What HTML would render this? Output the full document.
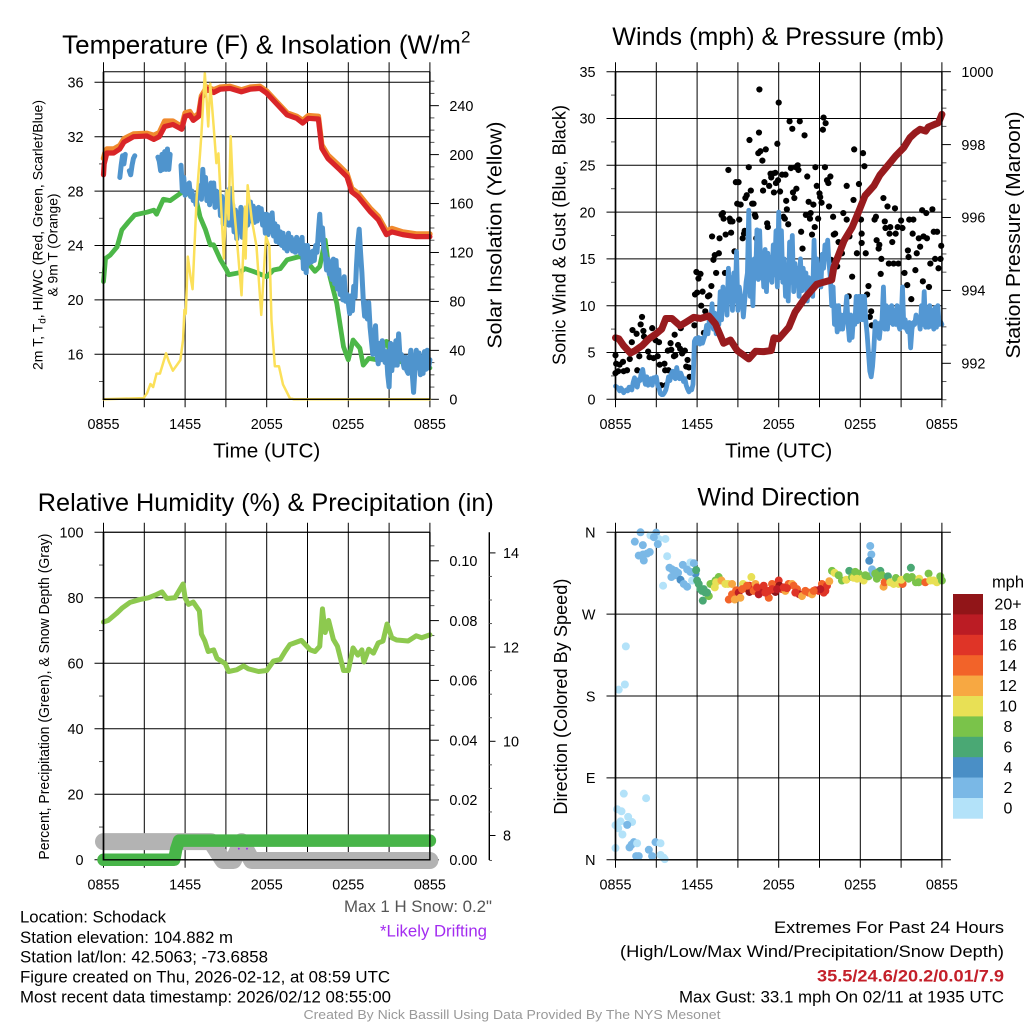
<!DOCTYPE html>
<html lang="en">
<head>
<meta charset="utf-8">
<title>Schodack Mesonet Station Meteogram</title>
<style>
html,body{margin:0;padding:0;background:#fff;}
svg{display:block;font-family:"Liberation Sans",Arial,sans-serif;}
.tick{font-size:14.4px;fill:#000;}
.title{font-size:25px;fill:#000;text-anchor:middle;}
.axt{font-size:20.7px;fill:#000;text-anchor:middle;}
.note{font-size:16.4px;fill:#000;}
.right{text-anchor:end;}
</style>
</head>
<body>
<svg id="chart" xmlns="http://www.w3.org/2000/svg" width="1024" height="1024" viewBox="0 0 1024 1024">
<rect width="1024" height="1024" fill="#fff"/>
<g id="p1"></g>
<g id="p2"></g>
<g id="p3"></g>
<g id="p4"></g>
<g id="cb"></g>

<text class="title" style="font-size:26px" x="266.3" y="53.5">Temperature (F) &amp; Insolation (W/m<tspan dy="-11" font-size="17">2</tspan></text>
<text class="title" x="778.3" y="45" textLength="332" lengthAdjust="spacingAndGlyphs">Winds (mph) &amp; Pressure (mb)</text>
<text class="title" x="265.8" y="511" textLength="456" lengthAdjust="spacingAndGlyphs">Relative Humidity (%) &amp; Precipitation (in)</text>
<text class="title" x="778.7" y="505.5">Wind Direction</text>

<text class="axt" x="266.7" y="457.5">Time (UTC)</text>
<text class="axt" x="778.7" y="457.5">Time (UTC)</text>

<text transform="translate(42.7 235) rotate(-90)" font-size="14.2" text-anchor="middle" textLength="270" lengthAdjust="spacingAndGlyphs">2m T, T<tspan dy="3" font-size="10">d</tspan><tspan dy="-3">, HI/WC (Red, Green, Scarlet/Blue)</tspan></text>
<text transform="translate(57.3 245) rotate(-90)" font-size="14.2" text-anchor="middle" textLength="103" lengthAdjust="spacingAndGlyphs">&amp; 9m T (Orange)</text>
<text class="axt" transform="translate(501.7 235) rotate(-90)" textLength="227" lengthAdjust="spacingAndGlyphs">Solar Insolation (Yellow)</text>
<text class="axt" style="font-size:18.8px" transform="translate(565.3 235) rotate(-90)" textLength="260" lengthAdjust="spacingAndGlyphs">Sonic Wind &amp; Gust (Blue, Black)</text>
<text class="axt" transform="translate(1020 235) rotate(-90)" textLength="247" lengthAdjust="spacingAndGlyphs">Station Pressure (Maroon)</text>
<text transform="translate(49 696.6) rotate(-90)" font-size="14.4" text-anchor="middle" textLength="326" lengthAdjust="spacingAndGlyphs">Percent, Precipitation (Green), &amp; Snow Depth (Gray)</text>
<text class="axt" style="font-size:18.8px" transform="translate(567 696.6) rotate(-90)" textLength="236" lengthAdjust="spacingAndGlyphs">Direction (Colored By Speed)</text>

<text class="note" x="20" y="922.5" textLength="146" lengthAdjust="spacingAndGlyphs">Location: Schodack</text>
<text class="note" x="20" y="943" textLength="213" lengthAdjust="spacingAndGlyphs">Station elevation: 104.882 m</text>
<text class="note" x="20" y="962.5" textLength="248" lengthAdjust="spacingAndGlyphs">Station lat/lon: 42.5063; -73.6858</text>
<text class="note" x="20" y="982.5" textLength="370" lengthAdjust="spacingAndGlyphs">Figure created on Thu, 2026-02-12, at 08:59 UTC</text>
<text class="note" x="20" y="1002.5" textLength="371" lengthAdjust="spacingAndGlyphs">Most recent data timestamp: 2026/02/12 08:55:00</text>

<text class="note right" x="492" y="912" style="fill:#555" textLength="148" lengthAdjust="spacingAndGlyphs">Max 1 H Snow: 0.2"</text>
<text class="note right" x="487" y="936.3" style="fill:#a32cf0" textLength="107" lengthAdjust="spacingAndGlyphs">*Likely Drifting</text>

<text class="note right" x="1004" y="933" textLength="230" lengthAdjust="spacingAndGlyphs">Extremes For Past 24 Hours</text>
<text class="note right" x="1004" y="957" textLength="384" lengthAdjust="spacingAndGlyphs">(High/Low/Max Wind/Precipitation/Snow Depth)</text>
<text class="note right" x="1004" y="981.5" style="fill:#c4202a;font-weight:bold" textLength="187" lengthAdjust="spacingAndGlyphs">35.5/24.6/20.2/0.01/7.9</text>
<text class="note right" x="1004" y="1002.5" textLength="325" lengthAdjust="spacingAndGlyphs">Max Gust: 33.1 mph On 02/11 at 1935 UTC</text>
<text x="512" y="1019" font-size="13.3" fill="#999" text-anchor="middle" textLength="417" lengthAdjust="spacingAndGlyphs">Created By Nick Bassill Using Data Provided By The NYS Mesonet</text>
</svg>

<script>
/* ---------- shared axis data ---------- */
const gridHours = [0,3,6,9,12,15,18,21,24];
const timeTickHours = [0,6,12,18,24];
const timeTickLabels = ['0855','1455','2055','0255','0855'];

/* ---------- temperature panel data ---------- */
const tempTicks = [36,32,28,24,20,16];
const tempMinorTicks = [34,30,26,22,18,14];
const solarTicks = [240,200,160,120,80,40,0];
const solarMinorTicks = [10,20,30,50,60,70,90,100,110,130,140,150,170,180,190,210,220,230,250,260];
const redHours = [0,0.05,0.25,0.75,1.2,1.5,2.2,3.2,3.7,4.1,4.5,5.1,5.75,6,6.35,6.6,7,7.2,7.6,8.1,8.6,9.3,10.15,10.8,11.5,12,12.7,13.5,14.2,14.65,15.05,15.8,16.05,16.5,17.4,17.9,18.25,18.7,19.6,20.2,20.8,21.2,22,23,24];
const redTemps = [29.2,30,30.8,30.8,31.1,31.6,32,32.05,31.8,32,32.75,32.9,32.55,33.5,33.6,33.2,33.5,34.8,35.5,35.25,35.5,35.55,35.3,35.5,35.55,35.2,34.45,33.6,33.35,33,33.35,33.3,31.15,30.4,29.55,29.05,27.95,27.6,26.5,25.9,24.8,25,24.8,24.65,24.65];
const orangeHours = [0,0.1,0.25,0.75,1.2,1.5,2.2,3.2,3.7,4.1,4.5,5.1,5.75,6,6.35,6.6,7,7.2,7.6,8.1,8.6,9.3,10.15,10.8,11.5,12,12.7,13.5,14.2,14.65,15.05,15.8,16.05,16.5,17.4,17.9,18.25,18.7,19.6,20.2,20.8,21.2,22,23,24];
const orangeTemps = [30.4,30.8,31.1,31.1,31.35,31.85,32.2,32.25,32.1,32.3,33.15,33.15,32.75,33.75,33.85,33.4,33.7,35,35.65,35.45,35.65,35.7,35.45,35.65,35.7,35.35,34.6,33.75,33.5,33.2,33.55,33.5,31.4,30.65,29.8,29.3,28.2,27.85,26.75,26.15,25.05,25.25,25,24.85,24.85];
const dewHours = [0,0.15,0.5,1,1.35,1.85,2.3,3.2,3.7,3.9,4.4,4.9,5.75,6.1,6.85,7.1,7.5,7.85,8.1,8.6,9.05,9.2,10,10.4,11,12,12.5,13,13.5,14.45,15.05,15.55,15.9,16.3,16.65,17.15,17.65,18,18.35,18.85,19.1,19.5,20.1,20.8,21.3,22.3,24];
const dewTemps = [21.35,23.05,23.3,23.9,25.15,25.75,26.25,26.45,26.6,26.3,27.4,27.3,27.9,27.95,27.2,26.1,25.15,24.05,24.05,22.95,22.2,21.85,22,22.3,22.1,21.7,22.2,22.3,22.95,23.2,22.7,22.1,22.45,24.4,21.7,19.75,16.55,15.6,17.05,16.45,15.2,15.7,15.6,16.95,15.6,15.35,15];
const chillStepHours = 0.1;
const chillTemps = [
null,null,null,null,null,null,null,null,null,null,
null,null,29.0,29.9,30.6,30.0,30.7,null,null,29.5,
29.2,29.9,30.4,30.6,null,null,null,null,null,null,
null,null,null,null,null,null,null,null,null,null,
30.5,30.2,29.5,30.7,29.6,30.9,29.6,31.1,29.6,30.7,
null,null,null,null,null,null,null,29.9,28.0,29.0,
27.7,27.9,28.4,28.6,27.6,28.0,27.3,27.6,27.0,27.8,
28.0,28.4,27.4,29.6,28.0,29.0,27.3,28.3,27.0,28.6,
27.3,28.6,26.8,28.0,26.9,27.9,26.2,27.6,25.6,27.0,
26.0,28.0,25.5,28.2,25.5,27.0,25.0,26.6,24.5,26.4,
25.3,26.8,24.6,26.6,25.0,26.5,25.5,26.0,27.2,25.8,
26.9,25.7,26.7,25.8,26.8,26.0,26.7,25.5,26.3,24.9,
26.3,24.8,26.2,25.0,26.4,24.7,25.6,24.3,25.4,24.2,
25.0,24.0,24.9,23.8,24.6,23.6,24.9,23.8,24.6,23.6,
24.4,23.5,24.6,23.6,24.4,23.4,24.6,22.3,24.0,22.0,
24.0,22.7,23.5,22.8,23.6,22.9,24.0,23.5,25.0,26.3,
24.4,25.3,23.8,23.4,22.2,23.0,21.9,22.8,21.5,23.0,
21.2,22.9,20.8,22.2,20.4,21.5,20.0,21.7,19.9,20.4,
19.8,19.0,20.3,19.2,21.0,20.2,22.5,24.2,25.2,23.5,
22.0,20.0,18.8,19.8,18.6,19.8,18.0,17.0,16.0,17.2,
18.1,16.0,15.3,16.8,15.6,17.0,16.0,15.4,16.2,14.5,
13.6,16.8,14.8,16.7,15.2,17.0,15.2,17.5,15.8,16.0,
15.5,15.0,15.8,14.8,14.6,15.5,16.3,14.6,13.2,14.9,
16.3,15.0,16.1,14.5,15.8,14.6,16.2,14.9,16.3,15.0,
15.6];
const solarHours = [0,2.95,3.2,3.45,3.65,3.9,4.15,4.6,4.8,5.1,5.4,5.65,5.85,5.95,6.05,6.2,6.4,6.55,6.85,7.1,7.2,7.45,7.6,7.7,7.85,8.1,8.3,8.45,8.6,8.85,9.05,9.2,9.35,9.55,9.85,10.15,10.4,10.45,10.6,10.9,11.25,11.6,11.95,12.2,12.35,12.6,12.9,13.2,13.7,14,24];
const solarValues = [0,1,5,12.5,10,21,21,37.6,31,23.4,28,32,48.5,73,70,116.6,100,90,165,201,217,266.5,242,223,258,223,193,201,168,115,171,147,215,163,125,85,157.5,115,175,147,125,69,133,125,65,27,27,12,1,0,0];

/* ---------- winds panel data ---------- */
const windTicks = [35,30,25,20,15,10,5,0];
const windMinorTicks = [2.5,7.5,12.5,17.5,22.5,27.5,32.5];
const pressureTicks = [1000,998,996,994,992];
const pressureMinorTicks = [991,991.5,992.5,993,993.5,994.5,995,995.5,996.5,997,997.5,998.5,999,999.5];
const windStepHours = 0.1;
const windSpeeds = [
1.4,1.3,1.2,0.9,1.2,1.0,0.7,0.9,1.0,0.9,
1.3,1.2,1.0,1.8,2.3,1.7,1.3,2.1,2.0,2.9,
3.2,2.2,1.6,2.4,1.5,1.8,2.2,1.5,2.3,2.0,
2.4,1.5,1.2,0.6,0.5,0.5,0.7,1.0,1.6,2.4,
2.0,2.7,3.0,2.4,2.2,3.4,2.6,2.2,2.8,2.4,
1.9,2.2,1.5,1.1,0.8,1.1,1.0,1.6,6.2,6.5,
6.0,6.6,5.9,6.5,6.0,6.5,6.9,7.9,7.0,8.5,
8.2,10.2,7.5,9.2,7.0,8.8,8.0,11.5,8.5,12.0,
10.0,11.0,9.0,14.0,11.0,13.0,9.5,13.5,10.5,15.8,
9.5,12.0,11.0,11.0,8.8,10.5,12.5,13.5,20.2,11.0,
14.0,10.0,15.0,13.0,18.1,12.8,18.0,13.0,15.0,12.0,
16.0,11.5,15.6,12.8,15.2,12.5,16.5,13.3,18.0,12.0,
20.0,13.0,18.0,12.5,15.0,11.0,14.0,10.5,16.8,12.5,
17.5,11.5,14.5,12.5,14.0,11.0,15.0,11.6,14.0,12.5,
13.5,10.5,13.0,11.5,12.5,11.0,17.0,12.0,15.0,12.5,
13.0,12.0,15.5,14.0,16.5,15.0,17.0,14.5,13.0,10.0,
12.0,8.0,10.0,7.2,10.0,7.5,9.0,7.5,8.8,9.2,
11.0,8.0,6.3,9.0,6.6,8.8,8.0,11.0,8.3,11.0,
8.5,11.0,8.5,11.0,8.5,7.0,5.0,3.0,2.4,3.5,
5.5,8.3,7.3,8.1,6.5,8.0,8.5,12.0,7.5,10.0,
7.5,9.8,8.2,10.0,8.0,9.5,8.0,10.0,8.0,7.5,
8.0,12.0,7.7,8.5,7.5,7.2,8.2,5.5,7.5,8.2,
8.0,9.0,8.3,8.7,7.5,10.0,8.0,11.5,7.7,9.0,
7.7,10.0,7.8,9.5,7.5,9.8,7.7,10.0,8.0,8.3,
8.0];
const pressureHours = [0,0.25,0.6,1.1,1.45,1.95,2.45,2.95,3.4,3.7,4.15,4.75,5.15,5.75,6.25,6.85,7.35,7.95,8.45,8.95,9.8,10.3,10.9,11.45,11.65,12,12.75,13.2,13.95,14.8,15.9,16.05,16.8,17.4,17.9,18.35,19,19.45,20.1,20.6,21.2,21.65,22.05,22.4,22.8,23,23.75,24];
const pressureValues = [992.7,992.67,992.48,992.28,992.35,992.48,992.67,992.8,992.94,993.23,993.23,993.03,993.12,993.26,993.23,993.3,993.08,992.55,992.64,992.35,992.12,992.33,992.32,992.35,992.7,992.67,992.99,993.4,993.8,994.17,994.29,994.63,995.36,995.73,996.18,996.6,996.87,997.17,997.46,997.69,997.92,998.19,998.33,998.42,998.37,998.48,998.6,998.83];
const gustHours = [0,0,0.05,0.3,0.2,0.55,0.6,0.85,1.05,1.2,1.25,1.55,1.6,1.75,1.85,1.95,2.05,2.1,2.4,2.5,2.7,2.8,2.95,3.1,3.2,3.25,3.35,3.6,3.65,3.7,3.85,3.9,4.05,4.1,4.3,4.35,4.4,4.6,4.75,4.8,4.9,5.1,5.2,5.3,5.4,5.45,
5.8,5.85,5.95,6,6.1,6.25,6.4,6.3,6.5,6.6,6.8,6.9,7.05,7.1,7.2,7.3,7.4,7.6,7.65,7.8,7.9,7.95,8.05,8.1,8.3,8.4,8.45,8.5,8.6,8.75,8.85,9.05,8.95,9.2,9.35,9.45,9.1,9.5,9.55,9.65,9.8,9.85,9.95,10.05,10.15,10.25,10.3,10.35,10.5,10.55,10.58,10.65,10.8,10.85,10.95,11.05,11.15,11.2,11.3,11.4,11.45,11.55,11.65,11.75,11.8,11.9,11.95,
12,12.1,12.25,12.5,12.55,12.6,12.35,12.45,12.7,12.8,12.9,13,13.05,13.15,13.25,13.3,13.4,13.45,13.55,13.65,13.75,13.9,14,14.1,14.2,14.3,14.35,14.45,14.55,14.65,14.7,14.8,14.9,15,15.05,15.15,15.25,15.3,15.4,15.45,15.55,15.65,15.7,15.8,15.85,
16,16.05,16.15,16.1,16.3,16.4,16.65,16.75,17,17,17.15,17.2,17.4,17.5,17.55,17.75,17.9,18.05,18.1,18.1,18.2,18.3,18.4,18.5,18.6,18.7,18.8,18.85,19.05,19.15,19.2,19.35,19.4,19.55,19.5,19.7,19.8,19.85,20,20.1,20.15,20.2,20.35,20.45,20.55,20.6,20.75,20.8,21,21.1,21.25,21.45,21.5,21.55,21.75,21.6,21.9,21.85,22.05,22.15,22.3,22.4,22.55,22.6,22.65,22.85,22.9,23.05,23.15,23.3,23.4,23.5,23.65,23.75,23.9,23.95];
const gustSpeeds = [4.7,2.8,3.8,3.7,3,4,3,3.1,4.3,6.1,7.4,7,3.1,4.6,8,8.8,7.3,6.7,5.1,4.5,7.6,4.4,6.3,4.6,6.1,3.7,1.5,3.8,3.1,1.5,5.2,3.1,6,5.3,4.6,6.9,4.7,5.8,5.4,7.6,4.9,5.2,3.5,4.2,3.4,2.4,
7.9,11.2,13.6,11.4,12.9,13.4,11.5,10,7.1,9.4,11,11.1,12.1,17.4,14.9,15.4,13.5,15.6,17.2,19.7,19.9,19.3,13.5,17.6,24.5,19.3,19,17.8,19,15.8,23.2,23.2,20.9,20.8,17.2,17.7,19.2,18,21.5,21.8,24.8,27.7,22.3,20.9,20.9,19.7,19.5,17.2,26.3,28.5,33.1,26.5,25.5,22.3,23.2,26.7,18.8,18.4,22.8,24.1,23.7,24.1,22.1,24.2,23.1,27.3,23.4,
31.7,22.2,24,24,21.2,20.3,19.5,19.3,18.7,29.7,24.7,28.9,22.1,21.5,24.8,22.5,25,24.5,29.7,17.9,16.1,28.2,19.7,23.8,21.1,19.3,19.9,17.6,20.8,18.4,24.8,22.8,19.3,22,21.6,21,28.8,30.1,24.8,29.5,23.4,23.1,20.6,23.8,14.9,
19.5,17.6,17.7,14.2,14.2,16.8,15.6,19.9,22.8,19.2,11,17.4,13.1,21.3,26.7,15.6,23,19.2,17.7,16.7,26.3,24.9,15.6,11.2,12.1,8.8,9.4,7.9,19.2,19.5,17,16.1,16.5,15,13.4,21.5,19,18.3,20.6,14.5,17.7,18.4,16.8,14.5,20.4,17.7,18.4,14.5,19.1,18.3,13.5,12.2,15.9,15.2,10.7,19.2,19.2,17.7,13.8,15.6,17.2,16.3,20.2,12.6,17.4,19.9,17.2,12,14.5,20.3,17.9,15,17.9,14,15,16.4];

/* ---------- humidity panel data ---------- */
const humidityTicks = [100,80,60,40,20,0];
const humidityMinorTicks = [90,70,50,30,10];
const precipTicks = [0.1,0.08,0.06,0.04,0.02,0];
const precipTickLabels = ['0.10','0.08','0.06','0.04','0.02','0.00'];
const precipMinorTicks = [0.005,0.01,0.015,0.025,0.03,0.035,0.045,0.05,0.055,0.065,0.07,0.075,0.085,0.09,0.095,0.105];
const snowTicks = [14,12,10,8];
const snowMinorTicks = [13.5,13,12.5,11.5,11,10.5,9.5,9,8.5,7.47];
const humidityHours = [0,0.35,0.95,1.35,1.95,2.7,3.3,3.9,4.3,4.65,5.25,5.85,6,6.25,6.6,7.05,7.2,7.45,7.7,8.1,8.35,8.95,9.2,9.8,10.3,10.65,11.4,12,12.5,13,13.35,13.7,14.55,15.2,15.55,15.9,16.1,16.3,16.55,16.9,17.2,17.65,18,18.35,18.7,19,19.15,19.5,19.85,20.2,20.55,20.85,21.2,21.55,22.4,23,23.4,24];
const humidityValues = [72.6,73.1,75.2,76.8,78.6,79.5,80,81,81.8,79.8,80,84.2,80,78,78.7,76,68.9,66.8,63.6,64.1,61.5,59.9,57.5,58,59.2,58.3,57.5,57.8,60.7,61.2,63.6,65.7,67,64.1,63.6,65.2,76.6,69.4,73.1,67.3,65.2,57.8,57.8,64.7,62.5,64.1,60.4,64.3,63.1,66.2,66.8,72,67.8,67.1,66.8,68.4,67.8,68.7];
const snowHours = [0,7.9,8.8,9.55,10.15,10.9,24];
const snowDepths = [7.87,7.87,7.47,7.47,7.87,7.47,7.47];
const driftHours = [9.95,10.55];
const driftDepths = [7.72,7.72];
const precipHours = [0,5.2,5.35,5.55,24];
const precipValues = [0,0,0.0036,0.0064,0.0064];

/* ---------- wind direction panel data ---------- */
const compassTicks = [360,270,180,90,0];
const compassLabels = ['N','W','S','E','N'];
const dirHours = [
1.84,1.42,2.01,2.99,2.57,3.18,3.67,3.11,2.82,1.71,2.08,2.03,2.33,2.52,1.91,
3.8,3.97,4.16,4.41,4.6,4.11,4.36,4.78,5.02,5.27,4.95,5.27,5.51,5.76,3.5,5.63,5.88,5.51,
0.76,0.69,0.24,0.61,2.25,0.12,0.44,0.93,0.37,1.22,0,0.2,0.86,0.51,0,1.35,1.18,1.03,1.59,2.94,3.31,2.45,1.52,1.71,2.69,3.31,3.55,3.62,
5.93,6,6.12,6.24,6.37,6.49,6.42,6.61,6.86,6.73,6.98,7.1,7.35,7.59,7.3,7.4,7.79,8.08,8.28,
8.33,8.57,8.87,9.06,8.77,9.18,9.38,9.55,9.85,9.99,9.85,10.16,10.29,10.53,10.73,10.9,11.27,11.27,11.51,11.76,12,12.05,12.25,12.49,12.73,12.98,13.1,13.35,13.52,13.71,13.96,14.2,14.45,14.69,14.94,15.18,15.31,15.55,15.43,15.72,11.02,10.41,9.31,9.67,8.57,12.61,13.22,11.51,11.88,12.37,15.06,14.57,
15.92,16.11,16.41,16.65,16.97,17.19,17.39,17.51,17.63,17.88,17.76,18.12,18.25,18.37,18.61,18.73,18.81,18.66,18.86,18.98,19.22,19.35,19.47,19.1,19.59,19.71,19.79,20.03,20.2,20.45,20.62,20.82,21.11,21.01,21.43,21.72,21.55,21.8,22.09,22.33,22.29,22.78,23.02,23.14,23.39,23.63,23.88,24];
const dirDegrees = [
360,349.7,345.9,359.6,356.6,352.7,352.7,347,354.6,334.4,329,335.6,336.7,338.3,334.4,
333.7,321,319.2,317.6,315.4,310.8,312.8,307.8,303.2,300.2,324.2,319.2,326.8,326,301.3,307,314.6,316.5,
234.6,192.7,187,72.7,67.7,55.6,53.3,47.2,42.2,41.5,38,34.6,38.4,27.8,12.9,19.4,16.7,13.6,18.2,19.4,18.2,11,4.1,4.1,4.1,5.3,2.2,0.7,
318.4,307,303.2,297.5,295.6,297.5,284.9,293.7,289.9,293.7,303.2,303.2,307,310.8,299.4,305.1,307,303.2,303.2,
286.1,291.8,296.3,293.7,286.1,288,303.2,298.6,294.4,310.8,301.3,295.6,303.2,291.8,295.6,301.3,288,295.6,303.2,294.4,307,301.3,297.5,295.6,303.2,303.2,301.3,297.5,291.8,289.9,295.6,293.7,291.8,296.3,295.6,303.2,293.7,301.3,295.6,306.2,293.7,299.4,297.5,301.3,303.2,298.6,293.7,297.5,297.5,299.4,297.5,295.6,
317.6,315.4,312.8,307,307.8,317.6,310.8,310,316.5,314.6,309,309,307,312.8,311.6,345,335.6,328.7,319.2,314.6,309,316.5,317.6,314.6,312.8,300.2,305.1,311.6,305.1,303.2,309.7,303.2,303.2,307.8,310.8,321,309,310.8,305.1,309,305.1,305.1,314.6,307,307,305.1,311.6,307];
const dirSpeeds = [
2,2,2,2,0,0,0,2,2,2,2,2,2,2,2,
0,2,2,2,2,2,2,4,2,2,2,2,0,2,0,0,4,2,
0,0,0,0,0,0,0,0,0,0,0,0,2,0,0,2,2,2,0,2,0,2,2,2,2,0,0,0,
6,6,6,6,6,6,6,6,8,6,8,8,8,8,10,10,12,10,10,
14,14,14,18,12,12,10,14,20,10,16,14,12,18,18,16,14,16,14,20,16,20,16,12,14,12,14,14,18,12,14,14,12,16,16,14,16,16,16,12,16,16,14,14,12,16,16,16,18,16,18,14,
8,10,8,8,10,6,8,10,8,8,10,10,10,8,8,2,2,4,2,2,8,8,6,8,8,12,14,6,10,10,8,10,14,10,8,6,8,8,8,10,8,14,8,10,10,10,8,8];

/* ---------- colorbar data ---------- */
const speedLevels = [20,18,16,14,12,10,8,6,4,2,0];
const speedLevelLabels = ['20+','18','16','14','12','10','8','6','4','2','0'];
const speedColors = ['#911518','#bb1c24','#df3427','#f26329','#f7a842','#e8e055','#7ac34a','#4aa874','#4a8fc6','#7ab8e6','#b3e2f9'];

/* ---------- scales ---------- */
const NS = 'http://www.w3.org/2000/svg';
const left1 = 103.5, left2 = 615.5, hourPx = 13.6;
const x1 = h => left1 + h * hourPx;
const x2 = h => left2 + h * hourPx;
const yTemp = v => 82.3 + (36 - v) * 13.6;
const ySolar = v => 399.3 - v * 1.2235;
const yWind = v => 399.3 - v * 9.36;
const yPress = v => 71.7 + (1000 - v) * 36.45;
const yHum = v => 859.8 - v * 3.275;
const yPrecip = v => 859.8 - v * 2990;
const ySnow = v => 835.5 - (v - 8) * 47.1;
const yDir = v => 859.8 - v * (327.5 / 360);

function mk(parent, tag, attrs) {
  const el = document.createElementNS(NS, tag);
  for (const k in attrs) el.setAttribute(k, attrs[k]);
  parent.appendChild(el);
  return el;
}
function seg(parent, name, ax, ay, bx, by, width, color) {
  const el = mk(parent, 'line', {x1: ax, y1: ay, x2: bx, y2: by, stroke: color || '#000', 'stroke-width': width || 1});
  
  
  return el;
}
function label(parent, name, x, y, str, anchor) {
  const el = mk(parent, 'text', {x: x, y: y, class: 'tick', 'text-anchor': anchor});
  el.textContent = str;
  
  
  return el;
}
function series(parent, name, hours, values, sx, sy, color, width) {
  let d = '', pen = false;
  hours.forEach((h, i) => {
    const v = values[i];
    if (v === null || v === undefined) { pen = false; return; }
    d += (pen ? 'L' : 'M') + sx(h).toFixed(2) + ' ' + sy(v).toFixed(2);
    pen = true;
  });
  const el = mk(parent, 'path', {d: d, fill: 'none', stroke: color, 'stroke-width': width, 'stroke-linejoin': 'round', 'stroke-linecap': 'round'});
  
  
  return el;
}
const stepHours = (n, step) => Array.from({length: n}, (_, i) => i * step);

/* Draws gridlines, outer ticks and labels under the data. */
function axesUnder(g, o) {
  gridHours.forEach(h => {
    seg(g, 'time-gridline', o.sx(h), o.top - 9.5, o.sx(h), o.bottom + 8, 1);
  });
  timeTickHours.forEach((h, i) => {
    label(g, 'time-tick-label', o.sx(h), o.labelY, timeTickLabels[i], 'middle');
  });
  o.leftTicks.forEach((v, i) => {
    seg(g, 'left-axis-gridline', o.sx(0) - 9, o.ly(v), o.sx(24) + (o.gridOut || 0), o.ly(v), 1);
    label(g, 'left-axis-tick-label', o.sx(0) - 20, o.ly(v) + 5.2, o.leftLabels ? o.leftLabels[i] : String(v), 'end');
  });
  o.leftMinor.forEach(v => {
    seg(g, 'left-axis-minor-tick', o.sx(0) - 4.5, o.ly(v), o.sx(0), o.ly(v), 1, '#555');
  });
  if (o.rightTicks) {
    o.rightTicks.forEach((v, i) => {
      seg(g, 'right-axis-tick', o.sx(24), o.ry(v), o.sx(24) + 9, o.ry(v), 1);
      label(g, 'right-axis-tick-label', o.sx(24) + 19.5, o.ry(v) + 5.2, o.rightLabels ? o.rightLabels[i] : String(v), 'start');
    });
    o.rightMinor.forEach(v => {
      seg(g, 'right-axis-minor-tick', o.sx(24), o.ry(v), o.sx(24) + 4.5, o.ry(v), 1, '#555');
    });
  }
}
/* Draws the plot frame above the data. */
function frame(g, o) {
  seg(g, 'plot-left-spine', o.sx(0), o.top, o.sx(0), o.bottom + 0.7, 1.7);
  seg(g, 'plot-right-spine', o.sx(24), o.top, o.sx(24), o.bottom + 0.7, 1.4);
  seg(g, 'plot-bottom-spine', o.sx(0), o.bottom, o.sx(24), o.bottom, 1.4);
  seg(g, 'plot-top-spine', o.sx(0), o.top, o.sx(24), o.top, 1);
}

/* ---------- panel 1 ---------- */
const p1 = document.getElementById('p1');
const opt1 = {sx: x1, top: 71.8, bottom: 399.3, labelY: 429, ly: yTemp, ry: ySolar, leftTicks: tempTicks, leftMinor: tempMinorTicks, rightTicks: solarTicks, rightMinor: solarMinorTicks};
axesUnder(p1, opt1);
series(p1, 'nine-meter-temperature-line', orangeHours, orangeTemps, x1, yTemp, '#f08a2e', 5.4);
series(p1, 'two-meter-temperature-line', redHours, redTemps, x1, yTemp, '#d92528', 5.2);
series(p1, 'dew-point-line', dewHours, dewTemps, x1, yTemp, '#4cb748', 4.8);
series(p1, 'wind-chill-line', stepHours(chillTemps.length, chillStepHours), chillTemps, x1, yTemp, '#4f94cd', 5);
series(p1, 'solar-insolation-line', solarHours, solarValues, x1, ySolar, '#fbe05a', 2.5);
frame(p1, opt1);

/* ---------- panel 2 ---------- */
const p2 = document.getElementById('p2');
const opt2 = {sx: x2, top: 71.7, bottom: 399.3, labelY: 429, ly: yWind, ry: yPress, leftTicks: windTicks, leftMinor: windMinorTicks, rightTicks: pressureTicks, rightMinor: pressureMinorTicks};
axesUnder(p2, opt2);
gustHours.forEach((h, i) => {
  const dot = mk(p2, 'circle', {cx: x2(h).toFixed(2), cy: yWind(gustSpeeds[i]).toFixed(2), r: 3.1, fill: '#000'});
  
  
});
series(p2, 'sonic-wind-line', stepHours(windSpeeds.length, windStepHours), windSpeeds, x2, yWind, '#5397d3', 4.8);
series(p2, 'station-pressure-line', pressureHours, pressureValues, x2, yPress, '#981b1e', 7);
frame(p2, opt2);

/* ---------- panel 3 ---------- */
const p3 = document.getElementById('p3');
const opt3 = {sx: x1, top: 532.3, bottom: 859.8, labelY: 889.5, ly: yHum, ry: yPrecip, leftTicks: humidityTicks, leftMinor: humidityMinorTicks, rightTicks: precipTicks, rightLabels: precipTickLabels, rightMinor: precipMinorTicks};
axesUnder(p3, opt3);
seg(p3, 'snow-depth-axis-line', 489.3, 532.3, 489.3, 860, 1.4);
snowTicks.forEach(v => {
  seg(p3, 'snow-depth-axis-tick', 489.3, ySnow(v), 495.5, ySnow(v), 1);
  label(p3, 'snow-depth-tick-label', 503, ySnow(v) + 5.2, String(v), 'start');
});
snowMinorTicks.forEach(v => {
  seg(p3, 'snow-depth-minor-tick', 489.3, ySnow(v), 492, ySnow(v), 1, '#555');
});
series(p3, 'relative-humidity-line', humidityHours, humidityValues, x1, yHum, '#8dc94f', 5);
series(p3, 'snow-depth-line', snowHours, snowDepths, x1, ySnow, '#b3b3b3', 17);
driftHours.forEach((h, i) => {
  const mark = mk(p3, 'circle', {cx: x1(h).toFixed(2), cy: ySnow(driftDepths[i]).toFixed(2), r: 0.9, fill: '#a020f0'});
  
  
});
series(p3, 'precipitation-line', precipHours, precipValues, x1, yPrecip, '#48b549', 12.5);
frame(p3, opt3);

/* ---------- panel 4 ---------- */
const p4 = document.getElementById('p4');
const opt4 = {sx: x2, top: 532.3, bottom: 859.8, labelY: 889.5, ly: yDir, leftTicks: compassTicks, leftLabels: compassLabels, leftMinor: [], gridOut: 9};
axesUnder(p4, opt4);
dirHours.forEach((h, i) => {
  const idx = speedLevels.indexOf(dirSpeeds[i]);
  const dot = mk(p4, 'circle', {cx: x2(h).toFixed(2), cy: yDir(dirDegrees[i]).toFixed(2), r: 4, fill: speedColors[idx]});
  
  
});
frame(p4, opt4);

/* ---------- colorbar ---------- */
const cb = document.getElementById('cb');
const boxTop = 594, boxHeight = 20.4;
speedLevels.forEach((lvl, i) => {
  const box = mk(cb, 'rect', {x: 953, y: boxTop + i * boxHeight, width: 30, height: boxHeight + 0.3, fill: speedColors[i]});
  
  
  const t = label(cb, 'colorbar-label', 1008, boxTop + i * boxHeight + 15.6, speedLevelLabels[i], 'middle');
  t.setAttribute('style', 'font-size:16px');
});
const mph = label(cb, 'colorbar-unit-label', 1008, 587.5, 'mph', 'middle');
mph.setAttribute('style', 'font-size:16.5px');
</script>
</body>
</html>
